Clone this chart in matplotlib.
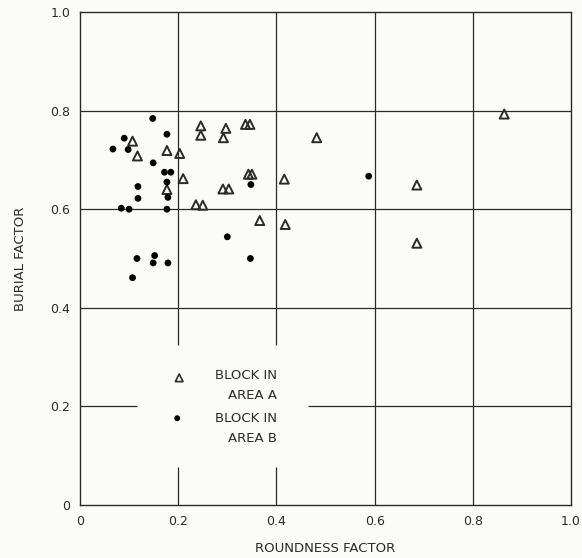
import matplotlib
matplotlib.use("Agg")
import matplotlib.pyplot as plt

# block in area A (open triangles)
a_x = [0.107, 0.117, 0.177, 0.203, 0.210, 0.177, 0.236, 0.250, 0.246, 0.246,
       0.297, 0.292, 0.337, 0.346, 0.343, 0.350, 0.291, 0.303, 0.366, 0.482,
       0.416, 0.418, 0.864, 0.686, 0.686]
a_y = [0.738, 0.708, 0.719, 0.713, 0.662, 0.640, 0.609, 0.608, 0.769, 0.750,
       0.764, 0.745, 0.772, 0.772, 0.671, 0.671, 0.641, 0.641, 0.577, 0.745,
       0.661, 0.569, 0.793, 0.649, 0.531]

# block in area B (filled circles)
b_x = [0.148, 0.090, 0.177, 0.067, 0.098, 0.149, 0.172, 0.185, 0.177, 0.118,
       0.179, 0.118, 0.084, 0.100, 0.177, 0.348, 0.300, 0.347, 0.116, 0.152,
       0.149, 0.179, 0.107, 0.588]
b_y = [0.784, 0.744, 0.752, 0.722, 0.721, 0.694, 0.675, 0.675, 0.655, 0.646,
       0.624, 0.622, 0.602, 0.600, 0.600, 0.650, 0.544, 0.500, 0.500, 0.506,
       0.491, 0.491, 0.461, 0.667]

ticks = [0, 0.2, 0.4, 0.6, 0.8, 1.0]
tick_labels = ["0", "0.2", "0.4", "0.6", "0.8", "1.0"]

ink = "#2b2b2b"
fig = plt.figure(figsize=(5.82, 5.58), dpi=100, facecolor="#fbfbf8")
ax = fig.add_axes([0.1375, 0.095, 0.8436, 0.8835])
ax.set_facecolor("#fbfbf8")
ax.set_xlim(0, 1.0)
ax.set_ylim(0, 1.0)

# grid, with gaps left around the key
lw = 0.9
for v in [0.6, 0.8]:
    ax.vlines(v, 0, 1, color=ink, lw=lw)
for v in [0.2, 0.4]:
    ax.vlines(v, 0.325, 1, color=ink, lw=lw)
    ax.vlines(v, 0, 0.077, color=ink, lw=lw)
for v in [0.4, 0.6, 0.8]:
    ax.hlines(v, 0, 1, color=ink, lw=lw)
ax.hlines(0.2, 0, 0.116, color=ink, lw=lw)
ax.hlines(0.2, 0.464, 1, color=ink, lw=lw)

ax.scatter(a_x, a_y, marker="^", s=42, facecolors="none", edgecolors=ink,
           linewidths=1.4, zorder=3)
ax.scatter(b_x, b_y, marker="o", s=24, color="black", edgecolors="none", zorder=3)

# key
ax.scatter([0.202], [0.258], marker="^", s=30, facecolors="none",
           edgecolors=ink, linewidths=1.2)
ax.scatter([0.198], [0.176], marker="o", s=18, color="black", edgecolors="none")
ax.text(0.402, 0.243, "BLOCK IN\nAREA A", ha="right", va="center",
        multialignment="right", fontsize=9.5, color=ink, linespacing=1.7)
ax.text(0.402, 0.156, "BLOCK IN\nAREA B", ha="right", va="center",
        multialignment="right", fontsize=9.5, color=ink, linespacing=1.7)

ax.set_xticks(ticks)
ax.set_xticklabels(tick_labels)
ax.set_yticks(ticks)
ax.set_yticklabels(tick_labels)
ax.tick_params(length=0, labelsize=9, labelcolor=ink, pad=7)
for s in ax.spines.values():
    s.set_color(ink)
    s.set_linewidth(1.0)

ax.set_xlabel("ROUNDNESS FACTOR", fontsize=9.5, color=ink, labelpad=10)
ax.set_ylabel("BURIAL FACTOR", fontsize=9.5, color=ink, labelpad=17)

fig.savefig("out.png", dpi=100, facecolor=fig.get_facecolor())
